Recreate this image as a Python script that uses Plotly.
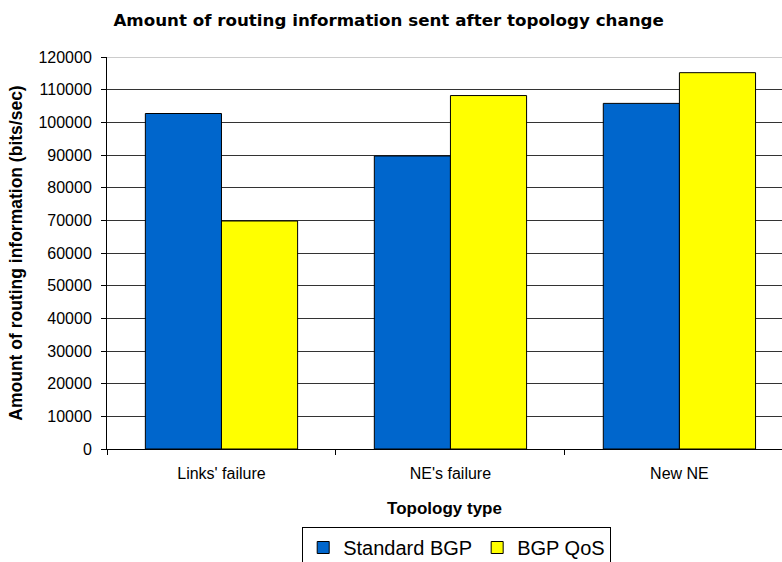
import plotly.graph_objects as go

categories = ["Links' failure", "NE's failure", "New NE"]
standard_bgp = [102700, 89700, 105800]
bgp_qos = [69800, 108200, 115200]

FONT = "Liberation Sans, Arial, sans-serif"

fig = go.Figure()
fig.add_trace(go.Bar(x=categories, y=standard_bgp, name="Standard BGP",
                     marker=dict(color="#0066CC", line=dict(color="black", width=1))))
fig.add_trace(go.Bar(x=categories, y=bgp_qos, name="BGP QoS",
                     marker=dict(color="#FFFF00", line=dict(color="black", width=1))))

# lighter line along the top of the plot area, as in the original
fig.add_shape(type="line", xref="paper", yref="y", x0=0, x1=1, y0=120000, y1=120000,
              line=dict(color="#9a9a9a", width=1), layer="below")

fig.update_layout(
    width=782, height=562,
    margin=dict(l=107, r=0, t=57, b=113),
    paper_bgcolor="white", plot_bgcolor="white",
    barmode="group", bargap=0.335, bargroupgap=0,
    font=dict(family=FONT, size=16, color="black"),
    title=dict(text="<b>Amount of routing information sent after topology change</b>",
               x=0.497, xref="container", y=1 - 20 / 562, yanchor="middle",
               font=dict(family="DejaVu Sans, Verdana, sans-serif", size=16.7)),
    showlegend=True,
    legend=dict(orientation="h", xref="container", yref="container",
                x=0.584, xanchor="center", y=1 - 527 / 562, yanchor="top",
                bordercolor="black", borderwidth=1, font=dict(size=20),
                itemwidth=30, tracegroupgap=0),
)

fig.update_xaxes(
    range=[-0.5, 2.448], showline=True, linecolor="black", linewidth=1,
    ticks="outside", tickson="boundaries", ticklen=5, tickcolor="black",
    showgrid=False, tickfont=dict(size=16), ticklabelstandoff=10, automargin=False,
    title=dict(text="<b>Topology type</b>", font=dict(size=17), standoff=20),
)
fig.update_yaxes(
    range=[0, 120000], dtick=10000, showline=True, linecolor="black", linewidth=1,
    ticks="outside", ticklen=5, tickcolor="black",
    showgrid=True, gridcolor="#333333", gridwidth=1, zeroline=False,
    tickformat="d", tickfont=dict(size=16), ticklabelstandoff=6, automargin=False,
    title=dict(text="<b>Amount of routing information (bits/sec)</b>",
               font=dict(size=17.5), standoff=11),
)

# drop the page's default body margin so the figure sits at the window corner
fig.write_html("out.html", config={"displayModeBar": False},
               post_script="document.body.style.margin='0';")
